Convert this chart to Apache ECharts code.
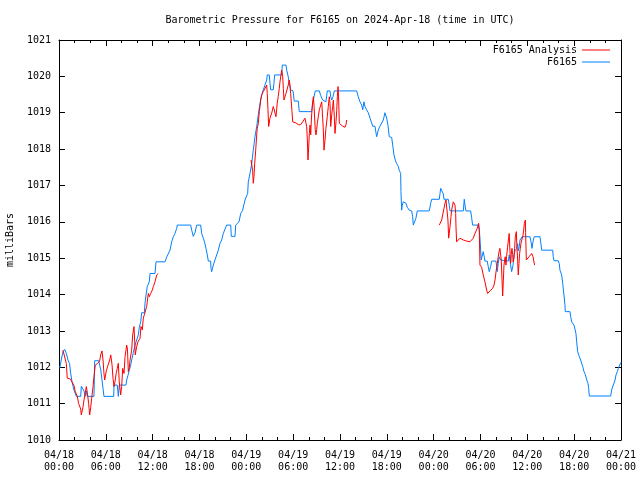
<!DOCTYPE html>
<html>
<head>
<meta charset="utf-8">
<script src="https://cdn.jsdelivr.net/npm/echarts@6/dist/echarts.min.js"></script>
<style>
html,body{margin:0;padding:0;background:#fff;}
#chart{width:640px;height:480px;}
</style>
</head>
<body>
<div id="chart"></div>
<script>
// ---- Data (hours since 2024-04-18 00:00 UTC, pressure in mb) ----
const titleText = 'Barometric Pressure for F6165 on 2024-Apr-18 (time in UTC)';
const yAxisName = 'milliBars';
const xTickLabels = ['04/18\n00:00','04/18\n06:00','04/18\n12:00','04/18\n18:00',
  '04/19\n00:00','04/19\n06:00','04/19\n12:00','04/19\n18:00',
  '04/20\n00:00','04/20\n06:00','04/20\n12:00','04/20\n18:00','04/21\n00:00'];
const yTicks = [1010,1011,1012,1013,1014,1015,1016,1017,1018,1019,1020,1021];

const blueName = 'F6165';
const blueHours = [0.09,0.29,0.51,0.73,0.94,1.15,1.35,1.50,1.67,1.92,2.22,2.78,2.86,3.07,3.20,3.37,3.50,3.63,4.48,4.57,
  5.09,5.21,5.34,5.51,5.64,5.76,7.01,7.05,7.47,7.60,7.72,8.58,8.67,8.84,9.01,9.19,9.31,9.52,9.74,9.95,
  10.16,10.29,10.47,10.59,10.93,11.02,11.15,11.31,11.57,11.66,12.30,12.43,13.58,13.84,14.22,14.44,14.64,14.86,15.08,15.15,
  16.87,17.00,17.20,17.42,17.64,18.15,18.28,18.49,18.70,18.83,19.00,19.13,19.43,19.47,19.56,19.77,19.98,20.20,20.41,20.63,
  20.84,21.05,21.27,21.48,22.00,22.07,22.55,22.64,23.06,23.28,23.53,23.83,23.96,24.17,24.25,24.47,24.69,24.89,25.11,25.33,
  25.53,25.75,25.97,26.17,26.39,26.61,26.68,26.94,27.03,27.12,27.45,27.54,27.63,28.53,28.61,29.08,29.17,29.37,29.50,29.68,
  29.98,30.14,30.66,30.78,32.37,32.50,32.63,32.83,33.35,33.53,33.78,34.20,34.37,34.72,34.81,34.94,35.10,35.27,38.14,38.34,
  38.56,38.78,38.91,39.07,39.20,39.42,39.62,39.93,40.19,40.48,40.61,40.70,40.90,41.12,41.34,41.55,41.76,41.98,42.15,42.31,
  42.62,42.75,42.92,43.08,43.26,43.47,43.59,43.77,43.81,43.90,43.98,44.11,44.32,44.45,44.62,44.88,45.18,45.31,45.39,45.61,
  45.73,45.90,47.44,47.62,47.75,48.72,48.81,48.90,49.15,49.23,49.32,49.87,50.00,50.09,51.80,51.92,52.01,52.14,52.74,52.86,
  52.99,53.71,53.84,53.93,54.02,54.10,54.19,54.35,54.48,54.57,54.86,54.99,55.12,55.30,55.43,55.98,56.07,56.15,56.27,56.40,
  56.58,56.71,57.56,57.68,57.86,57.99,58.16,58.29,58.42,58.63,58.76,58.84,58.97,59.06,59.19,59.32,60.34,60.47,60.60,60.72,
  60.89,61.62,61.71,61.84,63.25,63.32,63.41,63.96,64.09,64.18,64.40,64.53,64.69,64.82,64.86,65.46,65.55,65.68,65.84,65.97,
  66.10,66.23,66.32,66.45,66.65,66.83,66.96,67.09,67.26,67.43,67.61,67.77,67.86,67.94,70.68,70.81,71.01,71.24,71.36,71.53,
  71.66,71.79,71.97];
const blueValues = [1011.97,1012.2,1012.43,1012.49,1012.38,1012.2,1012.1,1011.83,1011.6,1011.37,1011.2,1011.2,1011.48,1011.45,1011.35,1011.2,1011.35,1011.2,1011.2,1012.18,
  1012.18,1012.05,1011.95,1011.65,1011.42,1011.2,1011.2,1011.51,1011.51,1011.2,1011.51,1011.51,1011.65,1011.78,1011.92,1012.06,1012.2,1012.4,1012.61,1012.75,
  1012.89,1013.1,1013.25,1013.5,1013.5,1013.76,1013.99,1014.22,1014.35,1014.58,1014.58,1014.9,1014.9,1015.05,1015.22,1015.45,1015.59,1015.68,1015.82,1015.91,
  1015.91,1015.77,1015.6,1015.7,1015.91,1015.91,1015.68,1015.55,1015.4,1015.27,1015.09,1014.92,1014.92,1014.72,1014.63,1014.81,1014.95,1015.09,1015.22,1015.41,
  1015.5,1015.68,1015.8,1015.91,1015.91,1015.6,1015.6,1015.91,1016.0,1016.23,1016.32,1016.6,1016.6,1016.78,1017.1,1017.33,1017.6,1017.97,1018.34,1018.62,
  1018.94,1019.26,1019.49,1019.63,1019.76,1019.9,1020.04,1020.04,1019.81,1019.63,1019.63,1019.81,1020.04,1020.04,1020.31,1020.31,1020.17,1019.99,1019.81,1019.63,
  1019.6,1019.32,1019.32,1019.03,1019.03,1019.26,1019.4,1019.6,1019.6,1019.47,1019.35,1019.3,1019.6,1019.6,1019.44,1019.35,1019.44,1019.6,1019.6,1019.44,
  1019.3,1019.21,1019.08,1019.3,1019.17,1019.08,1019.0,1018.8,1018.63,1018.63,1018.45,1018.34,1018.52,1018.63,1018.65,1018.8,1019.0,1018.85,1018.65,1018.34,
  1018.32,1018.11,1017.84,1017.7,1017.6,1017.52,1017.42,1017.33,1016.83,1016.32,1016.46,1016.55,1016.6,1016.51,1016.4,1016.32,1016.3,1016.14,1015.91,1015.91,
  1016.1,1016.3,1016.3,1016.51,1016.62,1016.62,1016.78,1016.92,1016.92,1016.77,1016.62,1016.62,1016.46,1016.3,1016.3,1016.62,1016.46,1016.3,1016.3,1016.12,
  1015.91,1015.91,1015.78,1015.55,1015.22,1014.95,1015.04,1015.18,1015.04,1014.92,1014.92,1014.77,1014.63,1014.77,1014.92,1014.92,1014.77,1014.63,1014.85,1015.04,
  1014.95,1014.92,1014.92,1015.09,1014.81,1014.63,1014.8,1015.09,1015.2,1015.27,1015.4,1015.2,1015.32,1015.5,1015.45,1015.59,1015.59,1015.45,1015.27,1015.45,
  1015.59,1015.59,1015.45,1015.22,1015.22,1015.04,1014.93,1014.93,1014.85,1014.67,1014.54,1014.31,1013.99,1013.71,1013.53,1013.53,1013.4,1013.25,1013.2,1013.16,
  1013.05,1012.93,1012.7,1012.43,1012.3,1012.2,1012.15,1012.02,1011.88,1011.8,1011.65,1011.56,1011.42,1011.21,1011.21,1011.38,1011.51,1011.65,1011.79,1011.88,
  1011.97,1012.02,1012.13];

const redName = 'F6165 Analysis';
const red1Hours = [0.51,0.73,0.94,1.06,1.45,1.67,1.92,2.09,2.34,2.52,2.78,2.86,3.07,3.20,3.37,3.50,3.63,3.80,3.93,4.06,
  4.19,4.36,4.48,4.65,4.78,4.91,5.09,5.21,5.34,5.51,5.64,5.76,5.85,6.06,6.28,6.50,6.63,6.80,6.92,7.05,
  7.21,7.34,7.47,7.60,7.72,7.90,8.03,8.16,8.33,8.46,8.67,8.77,8.88,9.01,9.10,9.31,9.44,9.61,9.70,9.77,
  9.95,10.12,10.25,10.38,10.50,10.67,10.80,11.02,11.23,11.31,11.44,11.57,11.75,11.91,12.09,12.30,12.52,12.72];
const red1Values = [1012.47,1012.47,1012.1,1011.7,1011.68,1011.65,1011.5,1011.33,1011.2,1011.0,1010.85,1010.69,1010.9,1011.1,1011.3,1011.47,1011.3,1011.0,1010.69,1010.9,
  1011.15,1011.47,1011.74,1012.06,1012.02,1012.1,1012.15,1012.17,1012.34,1012.45,1012.2,1011.83,1011.65,1011.9,1012.06,1012.2,1012.34,1012.06,1011.7,1011.47,
  1011.65,1011.85,1011.97,1012.11,1011.6,1011.24,1011.47,1011.97,1011.83,1012.29,1012.61,1012.5,1011.88,1012.0,1012.2,1012.47,1012.89,1013.12,1012.7,1012.34,
  1012.57,1012.7,1012.75,1012.8,1013.12,1013.03,1013.35,1013.3,1013.67,1013.8,1014.03,1013.94,1014.03,1014.1,1014.22,1014.35,1014.54,1014.58];
const red2Hours = [24.60,24.81,24.89,24.98,25.07,25.20,25.33,25.40,25.53,25.66,25.75,25.84,25.97,26.17,26.39,26.61,26.68,26.77,26.86,26.94,
  27.03,27.25,27.45,27.58,27.67,27.80,27.88,27.96,28.09,28.22,28.31,28.44,28.53,28.66,28.74,28.82,28.95,29.08,29.25,29.37,
  29.50,29.59,29.68,29.76,29.85,29.94,30.11,30.36,30.66,30.78,30.96,31.22,31.39,31.51,31.64,31.73,31.81,31.90,31.99,32.07,
  32.16,32.25,32.33,32.41,32.50,32.59,32.68,32.76,32.83,32.92,33.01,33.09,33.22,33.35,33.53,33.66,33.78,33.87,33.95,34.08,
  34.20,34.37,34.50,34.63,34.72,34.81,34.94,35.06,35.15,35.27,35.36,35.49,35.58,35.66,35.75,35.83,35.91,36.09,36.34,36.64,
  36.77,36.86];
const red2Values = [1017.7,1017.4,1017.06,1017.24,1017.6,1017.97,1018.39,1018.57,1018.7,1019.03,1019.17,1019.35,1019.49,1019.58,1019.63,1019.76,1019.53,1019.08,1018.62,1018.67,
  1018.85,1018.99,1019.17,1019.08,1018.99,1018.89,1019.08,1019.26,1019.45,1019.67,1019.85,1020.04,1020.17,1019.99,1019.67,1019.35,1019.4,1019.53,1019.58,1019.76,
  1019.9,1019.76,1019.53,1019.3,1019.03,1018.75,1018.75,1018.72,1018.67,1018.62,1018.67,1018.75,1018.8,1018.85,1018.89,1018.62,1018.3,1017.7,1018.06,1018.43,
  1018.66,1018.39,1018.8,1019.08,1019.3,1019.44,1019.17,1018.8,1018.53,1018.39,1018.53,1018.71,1018.89,1019.08,1019.21,1019.3,1018.85,1018.5,1017.97,1018.25,
  1018.57,1018.89,1019.17,1019.44,1019.26,1018.62,1018.94,1019.17,1019.35,1018.9,1018.43,1018.75,1019.06,1019.44,1019.72,1019.35,1018.71,1018.67,1018.63,1018.6,
  1018.67,1018.8];
const red3Hours = [48.72,48.90,49.03,49.15,49.32,49.45,49.58,49.67,49.75,49.83,49.92,50.00,50.09,50.22,50.30,50.43,50.51,50.64,50.73,50.82,
  50.86,50.94,51.15,51.37,51.59,51.80,52.01,52.23,52.43,52.65,52.86,53.07,53.29,53.58,53.76,53.84,53.93,54.15,54.35,54.57,
  54.79,54.92,55.12,55.30,55.56,55.73,55.86,55.99,56.15,56.27,56.40,56.49,56.58,56.66,56.75,56.84,56.92,57.01,57.09,57.17,
  57.26,57.34,57.47,57.60,57.68,57.77,57.86,57.94,58.03,58.12,58.19,58.29,58.37,58.46,58.59,58.67,58.76,58.84,58.93,59.01,
  59.10,59.19,59.32,59.45,59.53,59.62,59.75,59.78,59.87,60.04,60.22,60.39,60.56,60.64,60.73,60.80,60.89,60.93];
const red3Values = [1015.91,1015.95,1016.05,1016.19,1016.37,1016.51,1016.6,1016.65,1016.6,1016.05,1015.55,1015.68,1015.86,1016.14,1016.32,1016.46,1016.55,1016.6,1016.46,1016.23,
  1015.86,1015.45,1015.48,1015.55,1015.57,1015.5,1015.49,1015.47,1015.46,1015.45,1015.45,1015.55,1015.68,1015.82,1015.96,1015.8,1014.81,1014.75,1014.54,1014.35,
  1014.12,1014.03,1014.08,1014.12,1014.17,1014.26,1014.4,1014.63,1014.85,1015.04,1015.2,1015.27,1015.32,1014.95,1014.45,1013.96,1014.35,1014.81,1014.95,1015.04,
  1014.81,1015.04,1015.3,1015.55,1015.68,1015.2,1014.86,1015.1,1015.27,1015.1,1014.9,1015.0,1015.27,1015.59,1015.73,1015.3,1014.95,1014.54,1014.85,1015.13,
  1015.27,1015.41,1015.45,1015.64,1015.77,1015.96,1016.05,1015.7,1014.95,1015.0,1015.04,1015.09,1015.13,1015.15,1015.04,1014.95,1014.9,1014.81];

// ---- Chart ----
const FONT = 'DejaVu Sans Mono';
const BLUE = '#0080ff';
const RED = '#ff0000';
const pair = (hs, vs) => hs.map((h, i) => [h, vs[i]]);

const chart = echarts.init(document.getElementById('chart'), null, {renderer: 'canvas'});

const xBase = {
  type: 'value', min: 0, max: 72, interval: 6,
  axisLine: {show: true, onZero: false, lineStyle: {color: '#000', width: 1}},
  axisTick: {show: true, inside: true, length: 6, lineStyle: {color: '#000'}},
  minorTick: {show: true, splitNumber: 3, length: 3, lineStyle: {color: '#000'}},
  splitLine: {show: false}
};
const yBase = {
  type: 'value', min: yTicks[0], max: yTicks[yTicks.length - 1], interval: 1,
  axisLine: {show: true, onZero: false, lineStyle: {color: '#000', width: 1}},
  axisTick: {show: true, inside: true, length: 6, lineStyle: {color: '#000'}},
  splitLine: {show: false}
};
const legendBase = {
  orient: 'vertical', right: 30, align: 'right', icon: 'rect',
  itemWidth: 28, itemHeight: 1, padding: 0, selectedMode: false,
  textStyle: {fontFamily: FONT, fontSize: 10, color: '#000'}
};

chart.setOption({
  animation: false,
  backgroundColor: '#ffffff',
  textStyle: {fontFamily: FONT},
  title: {
    text: titleText, left: 340, top: 15, textAlign: 'center', padding: 0,
    textStyle: {fontFamily: FONT, fontSize: 10, fontWeight: 'normal', color: '#000'}
  },
  legend: [
    Object.assign({}, legendBase, {data: [redName], top: 45}),
    Object.assign({}, legendBase, {data: [blueName], top: 57})
  ],
  grid: {left: 59, right: 19, top: 40, bottom: 40, containLabel: false, outerBoundsMode: 'none'},
  xAxis: [
    Object.assign({}, xBase, {
      position: 'bottom',
      axisLabel: {
        show: true, margin: 9, color: '#000', fontFamily: FONT, fontSize: 10, lineHeight: 12,
        formatter: v => xTickLabels[Math.round(v / 6)] || ''
      }
    }),
    Object.assign({}, xBase, {position: 'top', axisLabel: {show: false}})
  ],
  yAxis: [
    Object.assign({}, yBase, {
      position: 'left',
      name: yAxisName, nameLocation: 'middle', nameGap: 44, nameRotate: 90,
      nameTextStyle: {fontFamily: FONT, fontSize: 10, color: '#000'},
      axisLabel: {show: true, margin: 8, color: '#000', fontFamily: FONT, fontSize: 10,
        formatter: v => String(v)}
    }),
    Object.assign({}, yBase, {position: 'right', axisLabel: {show: false}})
  ],
  series: [
    {name: redName, type: 'line', data: pair(red1Hours, red1Values), symbol: 'none', color: RED,
     lineStyle: {color: RED, width: 1}, z: 3},
    {name: redName, type: 'line', data: pair(red2Hours, red2Values), symbol: 'none', color: RED,
     lineStyle: {color: RED, width: 1}, z: 3},
    {name: redName, type: 'line', data: pair(red3Hours, red3Values), symbol: 'none', color: RED,
     lineStyle: {color: RED, width: 1}, z: 3},
    {name: blueName, type: 'line', data: pair(blueHours, blueValues), symbol: 'none', color: BLUE,
     lineStyle: {color: BLUE, width: 1}, z: 2}
  ]
});
</script>
</body>
</html>
